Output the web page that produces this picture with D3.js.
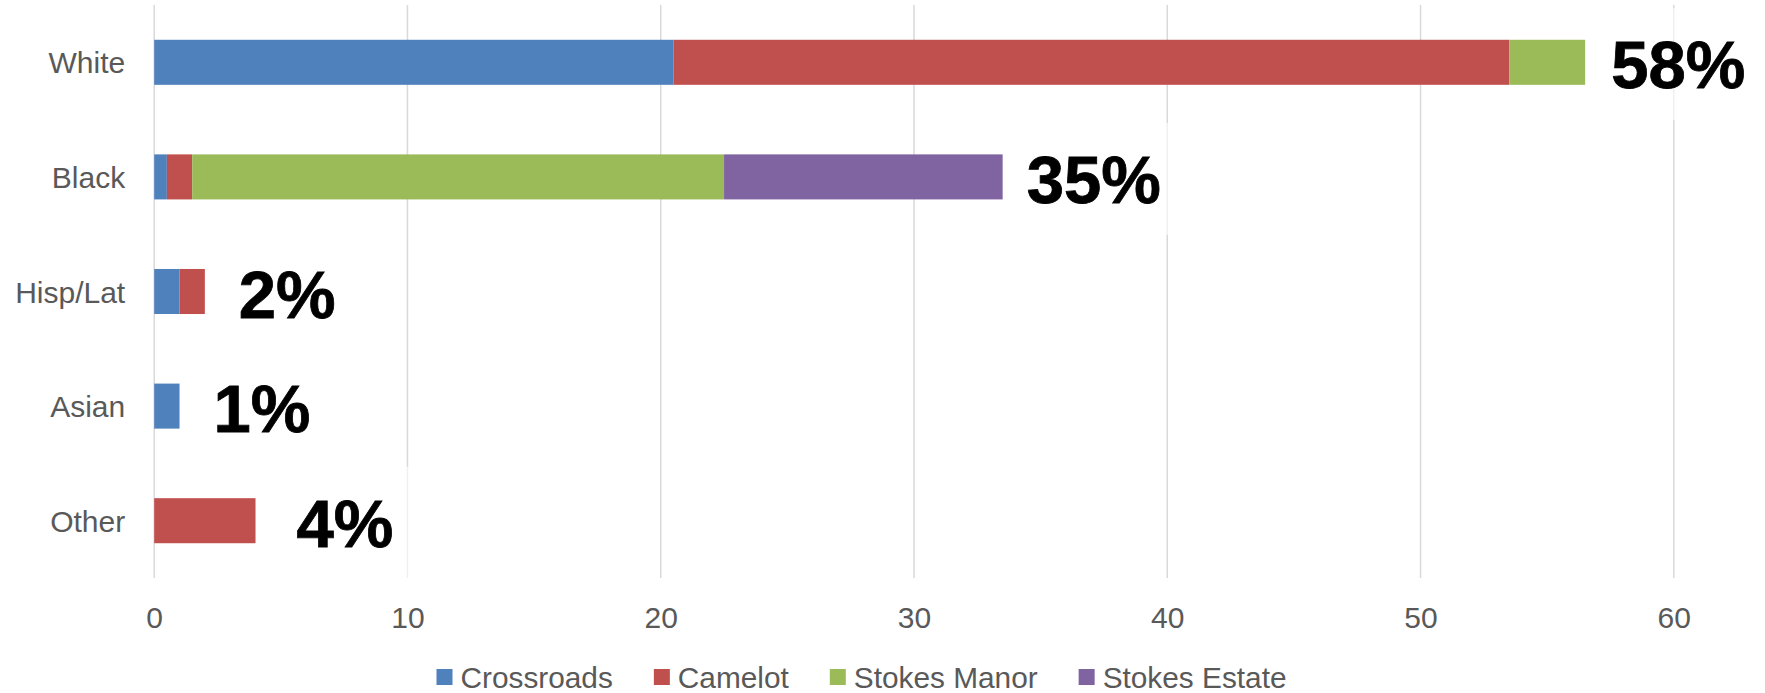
<!DOCTYPE html>
<html><head><meta charset="utf-8">
<script src="https://cdn.jsdelivr.net/npm/d3@7"></script>
<style>html,body{margin:0;padding:0;background:#fff;}svg{display:block;}</style>
</head><body>
<script>
// ---- data ----
const categories = ["White", "Black", "Hisp/Lat", "Asian", "Other"];
const seriesNames = ["Crossroads", "Camelot", "Stokes Manor", "Stokes Estate"];
const crossroads   = [20.5, 0.5, 1, 1, 0];
const camelot      = [33,   1,   1, 0, 4];
const stokesManor  = [3,    21,  0, 0, 0];
const stokesEstate = [0,    11,  0, 0, 0];
const totalLabels  = ["58%", "35%", "2%", "1%", "4%"];
const xTicks = [0, 10, 20, 30, 40, 50, 60];

// ---- layout ----
const W = 1765, H = 693;
const colors = ["#4F81BD", "#C0504D", "#9BBB59", "#8064A2"];
const labelNudge = [26, 24, 34, 34, 41];
const font = "'Liberation Sans', Arial, sans-serif";

const svg = d3.select("body").append("svg").attr("width", W).attr("height", H);

const x = d3.scaleLinear().domain([0, 60]).range([154.2, 1673.8]);
const y = d3.scaleBand().domain(categories).range([5, 578]).paddingInner(0.607).paddingOuter(0.3035);

const rows = categories.map((c, i) => {
  const r = {cat: c};
  r[seriesNames[0]] = crossroads[i];
  r[seriesNames[1]] = camelot[i];
  r[seriesNames[2]] = stokesManor[i];
  r[seriesNames[3]] = stokesEstate[i];
  return r;
});
const stack = d3.stack().keys(seriesNames)(rows);

// gridlines
svg.append("g").selectAll("line").data(xTicks).join("line")
  .attr("x1", d => x(d)).attr("x2", d => x(d))
  .attr("y1", 5).attr("y2", 578)
  .attr("stroke", "#d9d9d9").attr("stroke-width", 1.5);

// bars
svg.append("g").selectAll("g").data(stack).join("g")
  .attr("fill", (d, i) => colors[i])
  .selectAll("rect").data(d => d).join("rect")
  .attr("x", d => x(d[0]))
  .attr("y", d => y(d.data.cat))
  .attr("width", d => Math.max(0, x(d[1]) - x(d[0])))
  .attr("height", y.bandwidth());

// category labels
svg.append("g").selectAll("text").data(categories).join("text")
  .attr("x", x(0) - 29)
  .attr("y", d => y(d) + y.bandwidth() / 2 + 11)
  .attr("text-anchor", "end")
  .attr("font-family", font).attr("font-size", 30).attr("fill", "#595959")
  .text(d => d);

// x tick labels
const xAxis = d3.axisBottom(x).tickValues(xTicks).tickSize(0).tickPadding(0);
const gx = svg.append("g").attr("transform", "translate(0,600)").call(xAxis);
gx.select(".domain").remove();
gx.selectAll("text").attr("font-family", font).attr("font-size", 30).attr("fill", "#595959")
  .attr("dy", null).attr("y", 28);

// total labels with translucent boxes
const totals = categories.map((c, i) => crossroads[i] + camelot[i] + stokesManor[i] + stokesEstate[i]);
const lg = svg.append("g");
categories.forEach((c, i) => {
  const cy = y(c) + y.bandwidth() / 2 + 2;
  const tx = x(totals[i]) + labelNudge[i];
  const box = lg.append("rect").attr("fill", "#fff").attr("fill-opacity", 0.6);
  const t = lg.append("text")
    .attr("x", tx).attr("y", cy + 24)
    .attr("font-family", font).attr("font-weight", "bold").attr("font-size", 67)
    .attr("fill", "#000").attr("stroke", "#000").attr("stroke-width", 0.8)
    .text(totalLabels[i]);
  const w = t.node().getComputedTextLength();
  box.attr("x", tx - 10).attr("y", cy - 56).attr("width", w + 32).attr("height", 112);
});

// legend
const leg = svg.append("g");
const items = [];
seriesNames.forEach((s, i) => {
  const g = leg.append("g");
  g.append("rect").attr("x", 0).attr("y", 669).attr("width", 16).attr("height", 16).attr("fill", colors[i]);
  const t = g.append("text").attr("x", 24).attr("y", 688)
    .attr("font-family", font).attr("font-size", 29.8).attr("fill", "#595959").text(s);
  items.push({g, w: 24 + t.node().getComputedTextLength()});
});
const gap = 41;
const totalW = d3.sum(items, d => d.w) + gap * (items.length - 1);
let lx = 861.5 - totalW / 2;
items.forEach(it => { it.g.attr("transform", `translate(${lx},0)`); lx += it.w + gap; });
</script>
</body></html>
